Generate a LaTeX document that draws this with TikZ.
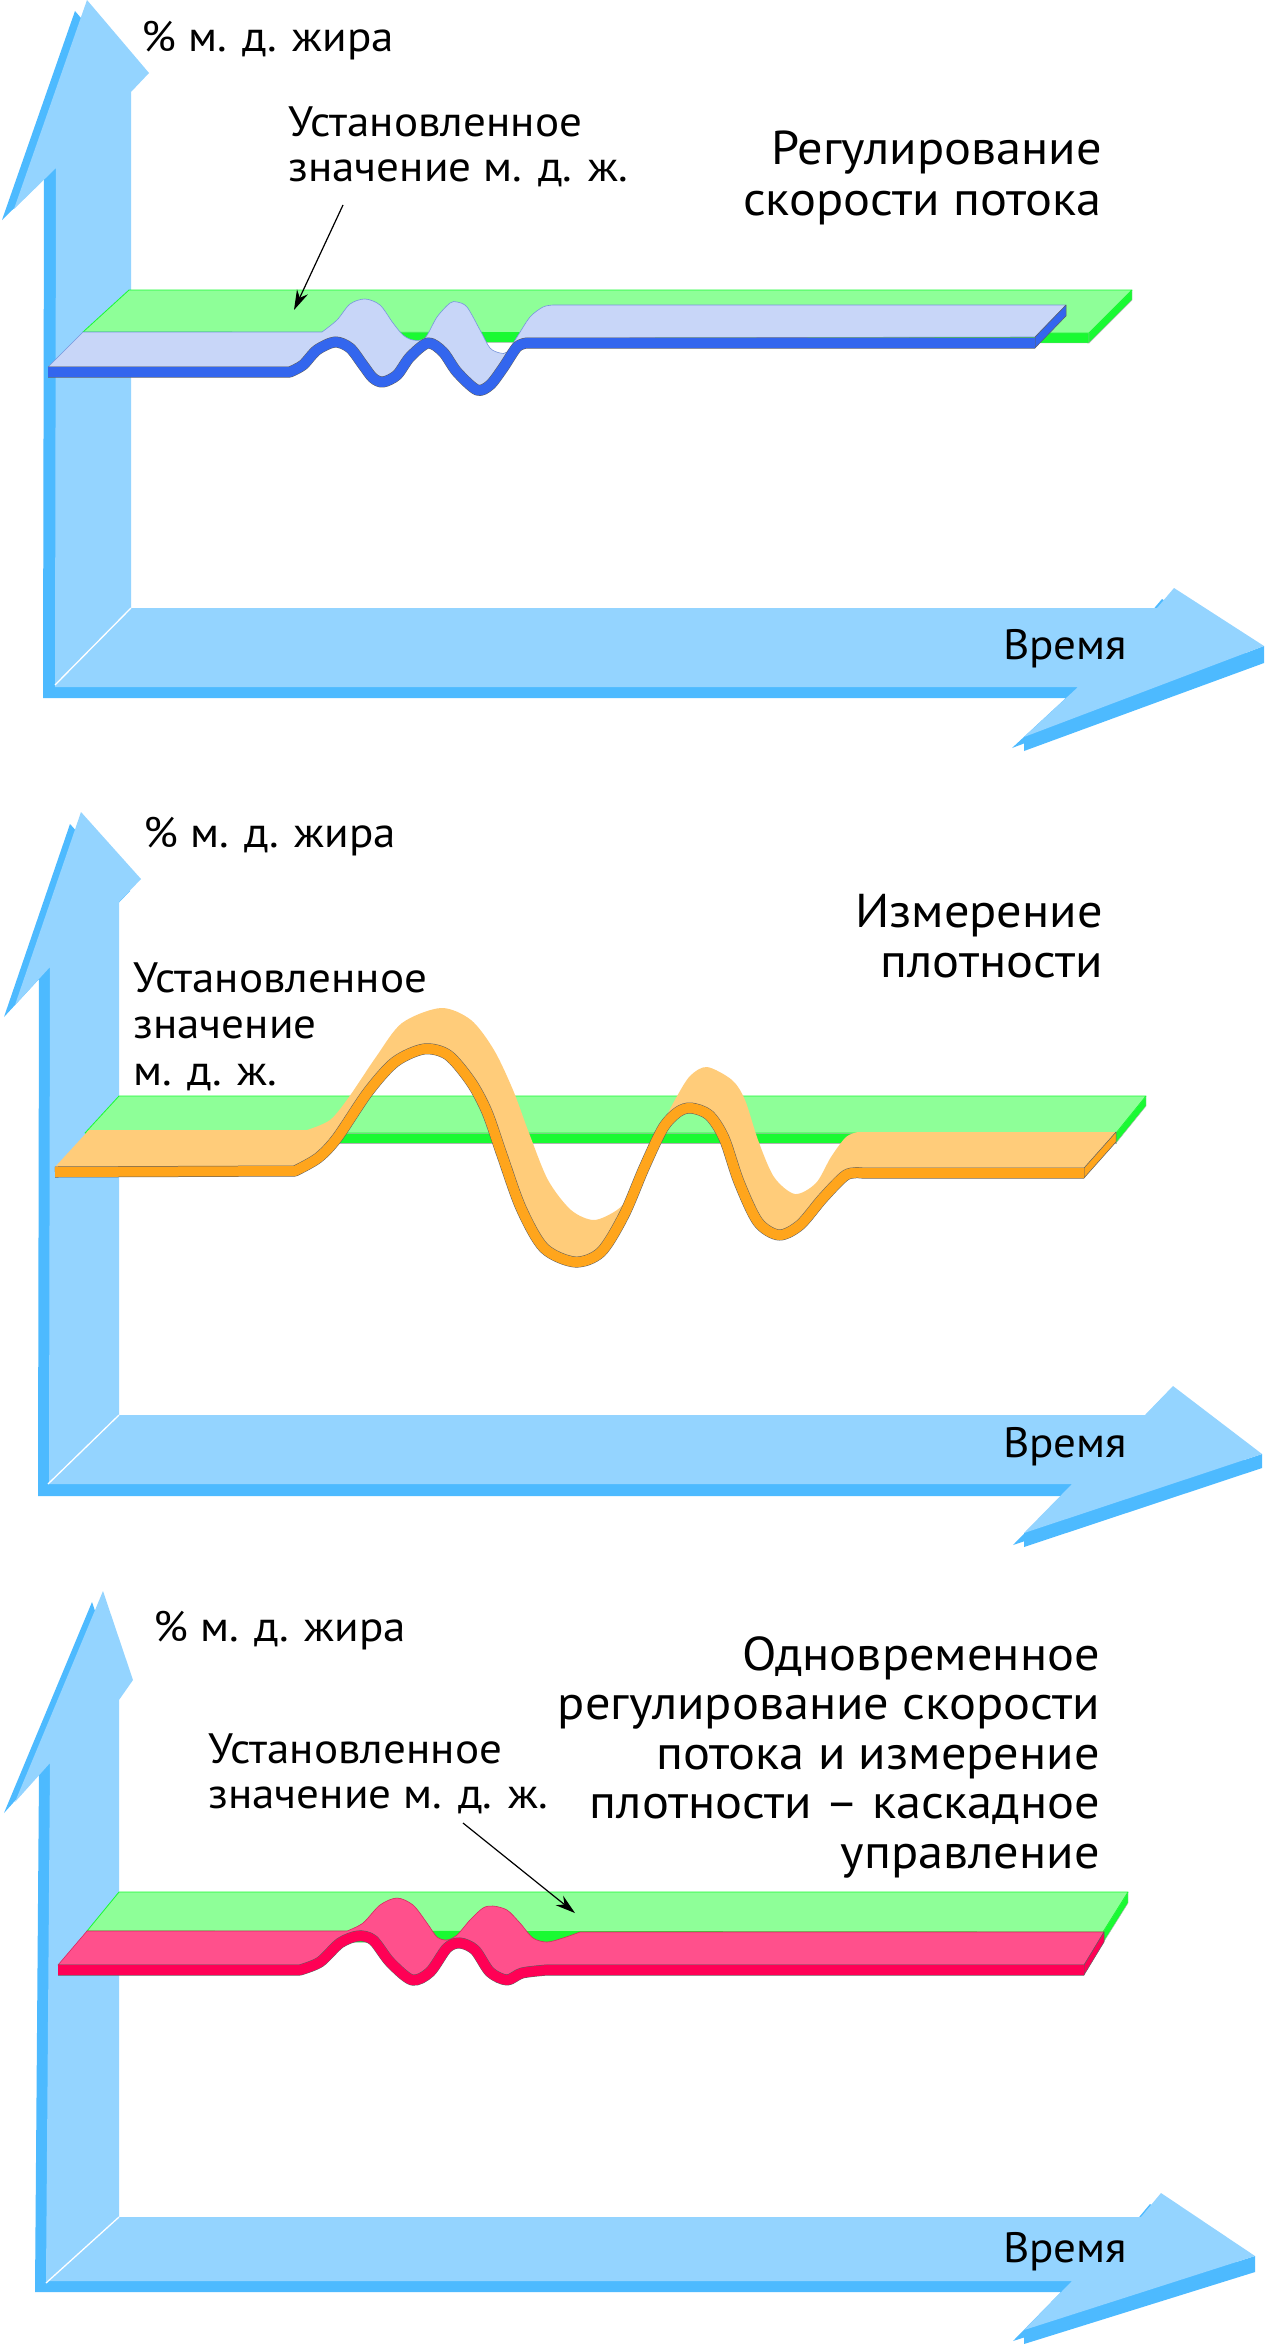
\documentclass[tikz,border=0pt]{standalone}
\usepackage{fontspec}
\setmainfont{PT Sans}[FakeStretch=1.06]
\usetikzlibrary{arrows.meta}
\definecolor{axlight}{RGB}{148,212,255}
\definecolor{axdark}{RGB}{77,186,255}
\definecolor{greenL}{RGB}{142,255,152}
\definecolor{greenD}{RGB}{25,250,50}
\definecolor{lavL}{RGB}{200,214,248}
\definecolor{lavE}{RGB}{120,150,220}
\definecolor{blueB}{RGB}{51,102,238}
\definecolor{orL}{RGB}{255,204,122}
\definecolor{orB}{RGB}{255,165,28}
\definecolor{pinkL}{RGB}{255,80,140}
\definecolor{pinkB}{RGB}{255,0,85}
\definecolor{bandedge}{RGB}{95,95,95}
\newcommand\lblfont{\fontsize{42.5}{46}\selectfont}
\newcommand\ttlfont{\fontsize{47.5}{50}\selectfont}
\def\axisone{(87,0) -- (149,73) -- (131,92) -- (131,608) -- (1157,608) -- (1174,588) -- (1264,646) -- (1024,737) -- (1078,687) -- (55,687) -- (56,168) -- (14,209) -- cycle}
\def\axistwo{(81,812) -- (141,879) -- (119,902) -- (119,1415) -- (1145,1415) -- (1173,1386) -- (1262,1454) -- (1024,1533) -- (1072,1484) -- (49,1484) -- (50,967) -- (15,1005) -- cycle}
\def\axisthree{(103,1591) -- (133,1680) -- (119,1700) -- (119,2217) -- (1141,2217) -- (1161,2193) -- (1255,2256) -- (1024,2330) -- (1072,2281) -- (46,2281) -- (50,1763) -- (15,1802) -- cycle}
\begin{document}
\begin{tikzpicture}[x=1pt,y=-1pt,line join=round,
  axL/.style={fill=axlight},
  axD/.style={fill=axdark},
  fold/.style={draw=white,line width=1.3pt},
  plane/.style={fill=greenL,draw=greenD,line width=0.8pt},
  planeside/.style={fill=greenD,draw=gray!60,line width=0.4pt},
  surf/.style={line width=0.6pt},
  band/.style={draw=bandedge,line width=0.5pt,double distance=10pt},
  bandside/.style={draw=bandedge,line width=0.5pt},
  lbl/.style={font=\lblfont,inner sep=0pt},
  ttl/.style={font=\ttlfont,inner sep=0pt},
  pointer/.style={draw=black,line width=1.2pt,-{Stealth[length=20pt,width=12pt]}}]
\useasboundingbox[fill=white] (0,0) rectangle (1264,2344);

% ================= panel 1 =================
\begin{scope}[shift={(-12,11)}]
  \fill[axD] \axisone;
\end{scope}
\fill[axD] (1264,646) -- (1264,663) -- (1024,751) -- (1024,737) -- cycle;
\fill[axL] \axisone;
\draw[fold] (131,608) -- (55,685);

\fill[planeside] (83,332) -- (1089,333) -- (1089,343) -- (83,342) -- cycle;
\fill[planeside] (1132,290) -- (1132,300) -- (1089,343) -- (1089,333) -- cycle;
\filldraw[plane] (129,290) -- (1132,290) -- (1089,333) -- (83,332) -- cycle;

\filldraw[surf,fill=lavL,draw=lavE] (83,332) -- (322,332) -- plot[smooth] coordinates {(322,332) (337,320) (350,304) (365,299) (380,305) (393,323) (403,335) (413,340) (425,338) (437,317) (450,303) (457,302) (467,307) (480,330) (490,348) (500,353) (507,352) (517,337) (530,317) (543,307) (553,305)} -- (1066,305) -- (1035,337) -- (527,338) -- plot[smooth] coordinates {(527,338) (517,342) (503,363) (490,380) (477,385) (457,367) (443,347) (428,338) (410,352) (397,370) (383,377) (373,373) (363,360) (350,343) (335,337) (317,345) (303,360) (290,367)} -- (48,367) -- cycle;
\filldraw[bandside,fill=blueB] (1035,337) -- (1066,305) -- (1066,316) -- (1035,348) -- cycle;
\draw[band,double=blueB] (48,372) -- (290,372) -- plot[smooth] coordinates {(290,372) (303,365) (317,350) (335,342) (350,348) (363,365) (373,378) (383,382) (397,375) (410,357) (428,343) (443,352) (457,372) (477,390) (490,385) (503,368) (517,347) (527,343)} -- (1035,343);

\node[lbl,anchor=base west] (y1) at (141,52) {\% м. д. жира};
\node[lbl,anchor=base west] (s1a) at (288,137) {Установленное};
\node[lbl,anchor=base west] (s1b) at (288,182) {значение м. д. ж.};
\node[ttl,anchor=base east] (h1a) at (1102,165) {Регулирование};
\node[ttl,anchor=base east] (h1b) at (1102,215) {скорости потока};
\node[lbl,anchor=base west] (x1) at (1003,659) {Время};
\coordinate (p1s) at (343,205);
\coordinate (p1e) at (294,310);
\draw[pointer] (p1s) -- (p1e);

% ================= panel 2 =================
\begin{scope}[shift={(-11,12)}]
  \fill[axD] \axistwo;
\end{scope}
\fill[axD] (1262,1454) -- (1262,1468) -- (1024,1547) -- (1024,1533) -- cycle;
\fill[axL] \axistwo;
\draw[fold] (119,1415) -- (48,1484);

\fill[planeside] (85,1133) -- (1116,1133) -- (1116,1143) -- (85,1143) -- cycle;
\fill[planeside] (1146,1096) -- (1146,1106) -- (1116,1143) -- (1116,1133) -- cycle;
\filldraw[plane] (119,1096) -- (1146,1096) -- (1116,1133) -- (85,1133) -- cycle;

\fill[fill=orL] (89,1130) -- (307,1130) -- plot[smooth] coordinates {(307,1130) (330,1120) (349,1097) (376,1057) (402,1023) (441,1008) (471,1020) (494,1050) (513,1090) (529,1133) (548,1180) (571,1210) (594,1220) (617,1210) (630,1195) (644,1163) (663,1123) (676,1098) (690,1076) (707,1067) (732,1080) (745,1100) (758,1140) (774,1177) (795,1194) (816,1183) (831,1157) (846,1137) (858,1132)} -- (1116,1132) -- (1084,1168) -- (862,1168) -- plot[smooth] coordinates {(862,1168) (846,1170) (823,1193) (800,1220) (779,1230) (758,1217) (739,1177) (724,1133) (709,1110) (691,1103) (678,1107) (663,1123) (644,1163) (624,1210) (601,1247) (575,1257) (544,1243) (521,1203) (502,1150) (487,1107) (471,1077) (448,1050) (424,1044) (395,1057) (368,1087) (337,1133) (318,1153) (295,1166)} -- (55,1167) -- cycle;
\filldraw[bandside,fill=orB] (1084,1168) -- (1116,1132) -- (1116,1142) -- (1084,1178) -- cycle;
\draw[band,double=orB] (55,1172) -- (295,1171) -- plot[smooth] coordinates {(295,1171) (318,1158) (337,1138) (368,1092) (395,1062) (424,1049) (448,1055) (471,1082) (487,1112) (502,1155) (521,1208) (544,1248) (575,1262) (601,1252) (624,1215) (644,1168) (663,1128) (678,1112) (691,1108) (709,1115) (724,1138) (739,1182) (758,1222) (779,1235) (800,1225) (823,1198) (846,1175) (862,1173)} -- (1084,1173);

\node[lbl,anchor=base west] (y2) at (143,847) {\% м. д. жира};
\node[ttl,anchor=base east] (h2a) at (1103,927) {Измерение};
\node[ttl,anchor=base east] (h2b) at (1103,977) {плотности};
\node[lbl,anchor=base west] (s2a) at (133,992) {Установленное};
\node[lbl,anchor=base west] (s2b) at (133,1038) {значение};
\node[lbl,anchor=base west] (s2c) at (133,1085) {м. д. ж.};
\node[lbl,anchor=base west] (x2) at (1003,1457) {Время};

% ================= panel 3 =================
\begin{scope}[shift={(-11,11)}]
  \fill[axD] \axisthree;
\end{scope}
\fill[axD] (1255,2256) -- (1255,2272) -- (1024,2344) -- (1024,2330) -- cycle;
\fill[axL] \axisthree;
\draw[fold] (119,2217) -- (46,2283);

\fill[planeside] (87,1931) -- (1103,1932) -- (1103,1943) -- (87,1942) -- cycle;
\fill[planeside] (1128,1892) -- (1128,1903) -- (1103,1943) -- (1103,1932) -- cycle;
\filldraw[plane] (119,1892) -- (1128,1892) -- (1103,1932) -- (87,1931) -- cycle;

\filldraw[surf,fill=pinkL,draw=pinkB!70!gray] (87,1931) -- (347,1931) -- plot[smooth] coordinates {(347,1931) (363,1923) (380,1905) (397,1898) (413,1905) (427,1923) (437,1937) (447,1940) (457,1935) (470,1920) (483,1908) (493,1906) (507,1910) (520,1923) (533,1938) (547,1942) (563,1938) (580,1932)} -- (1104,1932) -- (1084,1965) -- (547,1965) -- plot[smooth] coordinates {(547,1965) (522,1968) (507,1975) (490,1967) (475,1945) (460,1938) (447,1943) (430,1967) (412,1975) (390,1957) (373,1935) (358,1931) (340,1938) (320,1957) (300,1965)} -- (58,1965) -- cycle;
\filldraw[bandside,fill=pinkB] (1084,1965) -- (1104,1932) -- (1104,1942) -- (1084,1975) -- cycle;
\draw[band,double=pinkB] (58,1970) -- (300,1970) -- plot[smooth] coordinates {(300,1970) (320,1962) (340,1943) (358,1936) (373,1940) (390,1962) (412,1980) (430,1972) (447,1948) (460,1943) (475,1950) (490,1972) (507,1980) (522,1973) (547,1970)} -- (1084,1970);

\node[lbl,anchor=base west] (y3) at (153,1641) {\% м. д. жира};
\node[ttl,anchor=base east] (h3a) at (1100,1670) {Одновременное};
\node[ttl,anchor=base east] (h3b) at (1100,1719) {регулирование скорости};
\node[ttl,anchor=base east] (h3c) at (1100,1769) {потока и измерение};
\node[ttl,anchor=base east] (h3d) at (1100,1818) {плотности – каскадное};
\node[ttl,anchor=base east] (h3e) at (1100,1868) {управление};
\node[lbl,anchor=base west] (s3a) at (208,1763) {Установленное};
\node[lbl,anchor=base west] (s3b) at (208,1808) {значение м. д. ж.};
\node[lbl,anchor=base west] (x3) at (1003,2262) {Время};
\coordinate (p3s) at (463,1823);
\coordinate (p3e) at (575,1913);
\draw[pointer] (p3s) -- (p3e);
\end{tikzpicture}
\end{document}
